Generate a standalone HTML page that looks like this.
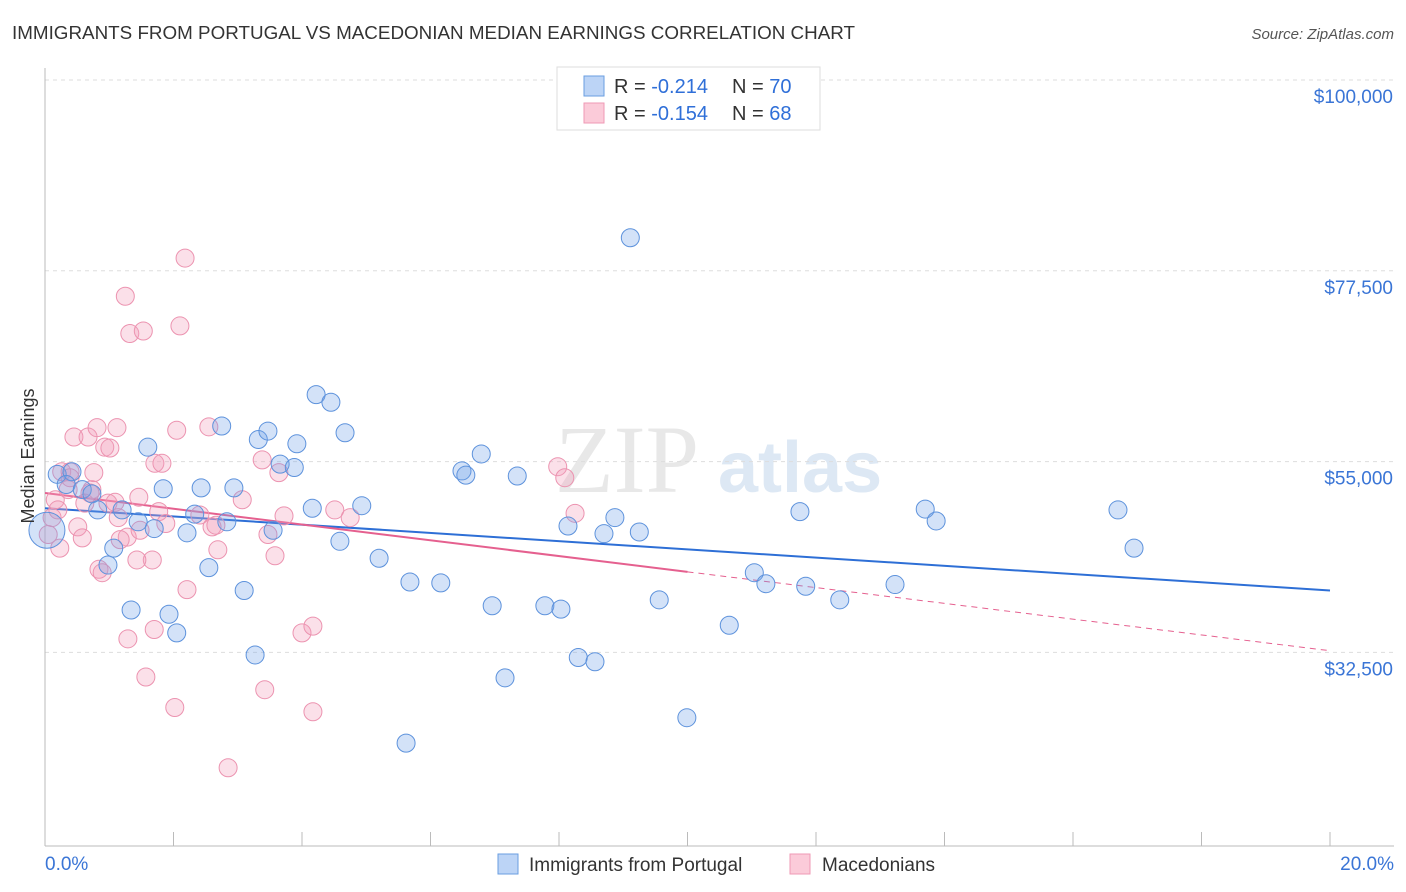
<!DOCTYPE html>
<html><head><meta charset="utf-8"><style>
body{margin:0;background:#fff;font-family:"Liberation Sans",sans-serif;}
svg{display:block}
</style></head><body>
<svg id="chart" width="1406" height="892" xmlns="http://www.w3.org/2000/svg" font-family="Liberation Sans, sans-serif">
<text x="12" y="39" font-size="18" fill="#333" textLength="843" lengthAdjust="spacingAndGlyphs">IMMIGRANTS FROM PORTUGAL VS MACEDONIAN MEDIAN EARNINGS CORRELATION CHART</text>
<text x="1394" y="39" font-size="15" fill="#555" text-anchor="end" font-style="italic">Source: ZipAtlas.com</text>
<g><text x="555" y="492" font-size="96" fill="#e8e8e8" font-family="Liberation Serif, serif">ZIP</text><text x="718" y="492" font-size="72" fill="#dde8f4" font-weight="bold">atlas</text></g>
<g id="grid"></g>
<g id="axes"></g>
<g id="lines"></g>
<g id="pts"></g>
<text transform="translate(34,456) rotate(-90)" font-size="18" fill="#333" text-anchor="middle">Median Earnings</text>
<g>
<rect x="557" y="67" width="263" height="63" fill="#fff" stroke="#ddd"/>
<rect x="584" y="76" width="20" height="20" fill="#bcd4f6" stroke="#6a9ee0"/>
<rect x="584" y="103" width="20" height="20" fill="#fbcbd9" stroke="#ef9ab5"/>
<text x="614" y="93" font-size="20" fill="#333">R = <tspan fill="#2f6fd8">-0.214</tspan></text>
<text x="732" y="93" font-size="20" fill="#333">N = <tspan fill="#2f6fd8">70</tspan></text>
<text x="614" y="120" font-size="20" fill="#333">R = <tspan fill="#2f6fd8">-0.154</tspan></text>
<text x="732" y="120" font-size="20" fill="#333">N = <tspan fill="#2f6fd8">68</tspan></text>
</g>
<g>
<rect x="498" y="854" width="20" height="20" fill="#bcd4f6" stroke="#6a9ee0"/>
<text x="529" y="871" font-size="19" fill="#333">Immigrants from Portugal</text>
<rect x="790" y="854" width="20" height="20" fill="#fbcbd9" stroke="#ef9ab5"/>
<text x="822" y="871" font-size="19" fill="#333">Macedonians</text>
</g>
</svg>
<script>
const yTicks=[100000,77500,55000,32500];
const yTickLabels=["$100,000","$77,500","$55,000","$32,500"];
const xTickLabels=["0.0%","20.0%"];
const blueX=[.19,.42,.33,.58,.73,.82,1.20,1.07,.98,1.34,1.45,1.60,1.70,1.84,1.93,2.05,2.21,2.33,2.43,2.55,2.75,2.83,2.94,3.10,3.27,3.32,3.47,3.55,3.66,3.88,3.92,4.16,4.22,4.45,4.59,4.67,4.93,5.20,5.62,5.68,6.16,6.49,6.55,6.79,6.96,7.16,7.35,7.78,8.03,8.14,8.30,8.56,8.70,8.87,9.11,9.25,9.56,9.99,10.65,11.04,11.22,11.84,11.75,12.37,13.23,13.70,13.87,16.70,16.95,0.03];
const blueY=[53.5,53.8,52.3,51.7,51.2,49.3,49.3,44.8,42.8,37.5,47.9,56.7,47.1,51.8,37.0,34.8,46.6,48.8,51.9,42.5,59.2,47.9,51.9,39.8,32.2,57.6,58.6,46.9,54.7,54.3,57.1,49.5,62.9,62.0,45.6,58.4,49.8,43.6,21.8,40.8,40.7,53.9,53.4,55.9,38.0,29.5,53.3,38.0,37.6,47.4,31.9,31.4,46.5,48.4,81.4,46.7,38.7,24.8,35.7,41.9,40.6,40.3,49.1,38.7,40.5,49.4,48.0,49.3,44.8,46.9];
const pinkX=[.05,.11,.16,.20,.26,.36,.39,.45,.51,.58,.62,.67,.73,.76,.81,.84,.89,.93,.98,1.01,1.09,1.12,1.14,1.25,1.28,1.29,1.32,1.46,1.53,1.57,1.67,1.43,1.70,1.71,1.77,1.82,1.88,2.02,2.05,2.10,2.18,2.21,2.55,2.60,2.66,2.69,2.85,3.07,3.38,3.42,3.58,3.64,3.72,4.00,4.17,4.17,4.51,4.75,7.98,8.09,8.25,1.48,.23,.39,2.41,3.47,.70,1.17];
const pinkY=[46.4,48.4,50.5,49.3,53.8,51.7,53.8,57.9,47.3,46.0,50.1,57.9,51.7,53.7,59.0,42.3,41.9,56.7,50.1,56.6,50.2,59.0,48.4,74.5,46.1,34.1,70.1,50.8,70.4,29.6,43.4,43.4,35.2,54.8,49.1,54.8,47.7,26.0,58.7,71.0,79.0,39.9,59.1,47.3,47.5,44.6,18.9,50.5,55.2,28.1,43.9,53.7,48.6,34.8,35.6,25.5,49.3,48.4,54.4,53.1,48.9,46.9,44.8,53.1,48.7,46.4,51.3,45.8];
const blueTrend=[49.5,39.8];
const pinkTrend=[51.3,32.7];
const pinkSolidEnd=10;

const NS="http://www.w3.org/2000/svg";
const X=v=>45+v/20*1285;
const Y=v=>80+(100-v)*8.48;
const YD=v=>Y(v/1000);
function mk(tag,attrs,parent){const e=document.createElementNS(NS,tag);for(const k in attrs)e.setAttribute(k,attrs[k]);document.getElementById(parent).appendChild(e);return e;}
yTicks.forEach((t,i)=>{
 const l=mk('line',{x1:45,x2:1394,y1:YD(t),y2:YD(t),stroke:'#ddd','stroke-dasharray':'4,4'},'grid');
 
 
 const tx=mk('text',{x:1393,y:YD(t)+23,'font-size':19,fill:'#3a75d6','text-anchor':'end'},'axes');
 tx.textContent=yTickLabels[i];
 
 
});
const ax=mk('line',{x1:45,x2:45,y1:68,y2:846,stroke:'#bbb'},'axes');


const bx=mk('line',{x1:45,x2:1394,y1:846,y2:846,stroke:'#bbb'},'axes');


for(let i=0;i<=10;i++){const t=mk('line',{x1:X(i*2),x2:X(i*2),y1:832,y2:846,stroke:'#bbb'},'axes');
 
 }
xTickLabels.forEach((s,i)=>{const t=mk('text',{x:i?1394:45,y:870,'font-size':19,fill:'#3a75d6','text-anchor':i?'end':'start'},'axes');t.textContent=s;
 
 });
function pts(xs,ys,fill,stroke,name){xs.forEach((x,i)=>{const big=(i===xs.length-1&&name==='blue-point');
 const c=mk('circle',{cx:X(x),cy:Y(ys[i]),r:big?18:9,fill:fill,stroke:stroke,'stroke-width':1},'pts');
 
 });}
pts(pinkX,pinkY,'rgba(243,160,188,0.32)','#ec93b0','pink-point');
pts(blueX,blueY,'rgba(110,160,232,0.3)','#5d92dc','blue-point');
const bl=mk('line',{x1:X(0),y1:Y(blueTrend[0]),x2:X(20),y2:Y(blueTrend[1]),stroke:'#2e6fd6','stroke-width':2},'lines');


const pm=pinkTrend[0]+(pinkTrend[1]-pinkTrend[0])*pinkSolidEnd/20;
const pl=mk('line',{x1:X(0),y1:Y(pinkTrend[0]),x2:X(pinkSolidEnd),y2:Y(pm),stroke:'#e5608f','stroke-width':2},'lines');


const pd=mk('line',{x1:X(pinkSolidEnd),y1:Y(pm),x2:X(20),y2:Y(pinkTrend[1]),stroke:'#e5608f','stroke-width':1,'stroke-dasharray':'6,5'},'lines');


</script>
</body></html>
